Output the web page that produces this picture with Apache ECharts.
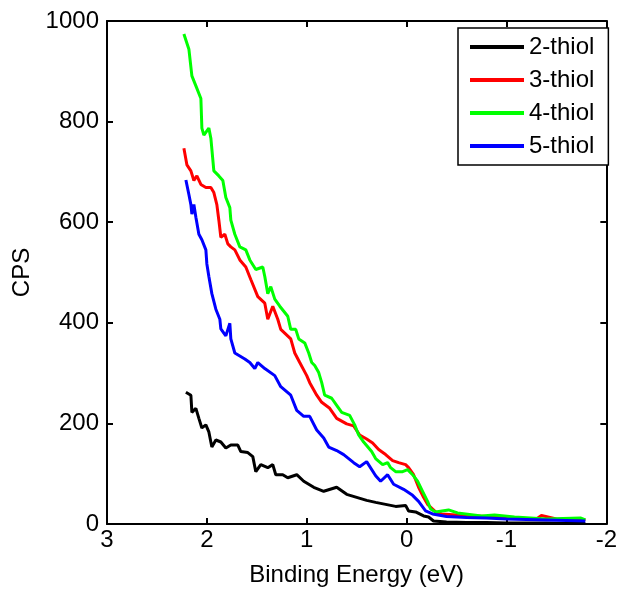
<!DOCTYPE html>
<html>
<head>
<meta charset="utf-8">
<script src="https://cdn.jsdelivr.net/npm/echarts@6/dist/echarts.min.js"></script>
<style>
html,body{margin:0;padding:0;background:#fff;}
#c{width:620px;height:592px;}
</style>
</head>
<body>
<div id="c"></div>
<script>
const seriesNames = ['2-thiol', '3-thiol', '4-thiol', '5-thiol'];
const seriesColors = ['#000000', '#ff0000', '#00ff00', '#0000ff'];
const xTitle = 'Binding Energy (eV)';
const yTitle = 'CPS';

const thiol2 = [
  [2.21,262],[2.16,256],[2.15,222],[2.11,230],[2.08,210],[2.05,191],[2.01,197],[1.98,183],
  [1.95,153],[1.91,167],[1.86,163],[1.81,151],[1.76,157],[1.69,157],[1.66,144],[1.59,142],
  [1.54,134],[1.51,104],[1.46,118],[1.39,112],[1.34,118],[1.31,98],[1.24,98],[1.19,92],
  [1.10,98],[1.03,85],[0.93,73],[0.83,65],[0.70,73],[0.60,59],[0.50,53],[0.40,47],
  [0.31,43],[0.21,39],[0.11,35],[0.01,37],[-0.02,26],[-0.09,24],[-0.17,16],[-0.22,14],
  [-0.27,6],[-0.40,4],[-0.60,3],[-0.80,3],[-1.00,2],[-1.20,2],[-1.40,2],[-1.60,1],[-1.79,1]
];
const thiol3 = [
  [2.23,747],[2.20,714],[2.16,702],[2.13,683],[2.10,692],[2.06,675],[2.01,669],[1.96,669],
  [1.93,659],[1.90,635],[1.88,604],[1.86,570],[1.82,576],[1.79,557],[1.76,551],[1.72,545],
  [1.67,525],[1.61,511],[1.56,486],[1.49,452],[1.42,439],[1.39,407],[1.34,433],[1.29,407],
  [1.26,387],[1.16,368],[1.12,340],[1.07,321],[1.00,295],[0.97,281],[0.90,256],[0.85,242],
  [0.77,230],[0.70,210],[0.60,199],[0.53,195],[0.47,177],[0.40,169],[0.34,161],[0.28,148],
  [0.21,138],[0.14,126],[0.08,122],[0.01,118],[-0.02,112],[-0.07,98],[-0.12,73],[-0.17,53],
  [-0.21,39],[-0.29,24],[-0.35,20],[-0.50,18],[-0.70,16],[-0.90,14],[-1.10,12],[-1.30,10],
  [-1.35,17],[-1.50,10],[-1.70,8],[-1.79,9]
];
const thiol4 = [
  [2.23,974],[2.18,944],[2.15,891],[2.11,871],[2.06,846],[2.05,787],[2.03,773],[1.98,787],
  [1.96,767],[1.93,702],[1.88,692],[1.84,683],[1.81,649],[1.77,629],[1.76,604],[1.72,576],
  [1.67,551],[1.61,545],[1.57,525],[1.51,506],[1.44,511],[1.42,492],[1.39,458],[1.36,472],
  [1.32,447],[1.27,433],[1.19,413],[1.16,387],[1.11,387],[1.08,368],[1.02,360],[0.98,340],
  [0.95,321],[0.92,315],[0.88,301],[0.85,281],[0.82,256],[0.75,250],[0.70,236],[0.65,222],
  [0.57,216],[0.52,197],[0.48,177],[0.43,163],[0.35,144],[0.31,130],[0.24,118],[0.19,122],
  [0.16,112],[0.11,104],[0.04,104],[-0.01,108],[-0.06,98],[-0.11,85],[-0.16,65],[-0.21,45],
  [-0.24,30],[-0.29,24],[-0.42,28],[-0.51,22],[-0.75,16],[-0.88,18],[-1.08,14],[-1.40,10],
  [-1.74,12],[-1.79,8]
];
const thiol5 = [
  [2.21,684],[2.18,655],[2.16,635],[2.15,616],[2.13,635],[2.11,610],[2.08,576],[2.05,565],
  [2.01,545],[2.00,517],[1.98,492],[1.95,458],[1.91,427],[1.87,407],[1.86,388],[1.81,374],
  [1.77,399],[1.76,368],[1.72,340],[1.67,334],[1.62,328],[1.57,321],[1.52,309],[1.49,321],
  [1.42,309],[1.32,295],[1.26,273],[1.16,256],[1.10,226],[1.03,214],[0.97,214],[0.90,187],
  [0.83,171],[0.78,153],[0.70,146],[0.63,138],[0.53,122],[0.47,114],[0.40,124],[0.31,96],
  [0.26,85],[0.19,98],[0.13,79],[0.03,69],[-0.06,57],[-0.12,45],[-0.19,26],[-0.26,20],
  [-0.40,15],[-0.60,13],[-0.80,12],[-1.00,10],[-1.20,9],[-1.40,8],[-1.60,7],[-1.79,6]
];
const seriesData = [thiol2, thiol3, thiol4, thiol5];

const FONT = 'Liberation Sans, Arial, Helvetica, sans-serif';
const chart = echarts.init(document.getElementById('c'), null, {renderer: 'canvas'});

const plain = v => String(v);
const axisCommonX = {
  type: 'value', min: -2, max: 3, interval: 1, inverse: true,
  splitLine: {show: false},
  axisLine: {show: true, onZero: false, lineStyle: {color: '#000', width: 2}},
  axisTick: {show: true, inside: true, length: 6, lineStyle: {color: '#000', width: 2}}
};
const axisCommonY = {
  type: 'value', min: 0, max: 1000, interval: 200,
  splitLine: {show: false},
  axisLine: {show: true, onZero: false, lineStyle: {color: '#000', width: 2}},
  axisTick: {show: true, inside: true, length: 6, lineStyle: {color: '#000', width: 2}}
};

chart.setOption({
  animation: false,
  backgroundColor: '#fff',
  grid: {left: 107, right: 7, top: 21, bottom: 62, containLabel: false},
  xAxis: [
    Object.assign({}, axisCommonX, {
      position: 'bottom',
      name: xTitle, nameLocation: 'middle', nameGap: 39,
      nameTextStyle: {fontFamily: FONT, fontSize: 24, color: '#000'},
      axisLabel: {show: true, margin: 4, fontFamily: FONT, fontSize: 24, color: '#000', formatter: plain}
    }),
    Object.assign({}, axisCommonX, {position: 'top', axisLabel: {show: false}})
  ],
  yAxis: [
    Object.assign({}, axisCommonY, {
      position: 'left',
      name: yTitle, nameLocation: 'middle', nameGap: 70, nameRotate: 90,
      nameTextStyle: {fontFamily: FONT, fontSize: 24, color: '#000'},
      axisLabel: {show: true, margin: 8, fontFamily: FONT, fontSize: 24, color: '#000', formatter: plain}
    }),
    Object.assign({}, axisCommonY, {position: 'right', axisLabel: {show: false}})
  ],
  legend: {
    left: 458, top: 28, orient: 'vertical',
    backgroundColor: '#fff', borderColor: '#000', borderWidth: 1.5,
    padding: [7, 14, 7, 12], itemGap: 9,
    itemWidth: 54, itemHeight: 4, icon: 'rect',
    textStyle: {fontFamily: FONT, fontSize: 24, color: '#000', lineHeight: 24},
    data: seriesNames
  },
  series: seriesNames.map((n, i) => ({
    name: n, type: 'line', data: seriesData[i],
    showSymbol: false, symbol: 'none',
    lineStyle: {color: seriesColors[i], width: 3},
    itemStyle: {color: seriesColors[i]},
    z: 2 + i
  }))
});
</script>
</body>
</html>
